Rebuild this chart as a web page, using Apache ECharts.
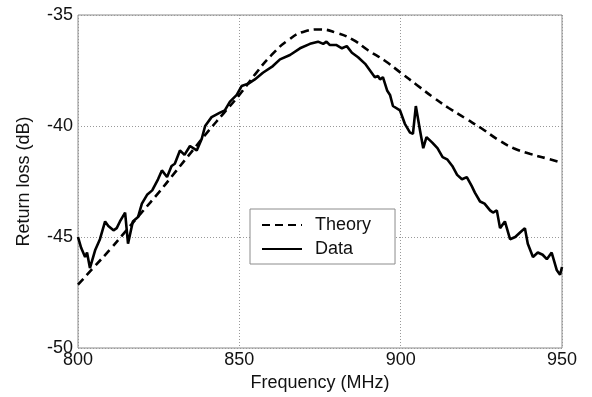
<!DOCTYPE html>
<html><head><meta charset="utf-8">
<script src="https://cdn.jsdelivr.net/npm/echarts@6/dist/echarts.min.js"></script>
<style>html,body{margin:0;padding:0;background:#fff}#c{width:592px;height:397px}</style>
</head><body><div id="c"></div>
<script>
var xTicks = [800, 850, 900, 950];
var yTicks = [-50, -45, -40, -35];

var theoryFreq = [800,805,810,815,820,825,830,835,840,845,850,855,860,865,870,875,880,885,890,895,900,905,910,915,920,925,930,935,940,945,950];
var theoryVal = [-47.15,-46.35,-45.55,-44.7,-43.85,-43.0,-42.1,-41.2,-40.3,-39.45,-38.6,-37.65,-36.8,-36.15,-35.75,-35.65,-35.8,-36.1,-36.6,-37.05,-37.6,-38.15,-38.7,-39.2,-39.65,-40.1,-40.6,-41.0,-41.25,-41.45,-41.65];

var dataFreq = [800,801,802.2,802.8,803.7,805.3,806.8,808.4,809.4,811,812,813,814.6,815.5,817,818.6,819.8,821.4,823,824.8,826,827.6,829,830,831.6,833,834.7,836.8,838.3,839.4,841.4,844,845.5,847.1,849.2,850.7,852.7,854.8,857.3,860.4,862.6,865.7,868.8,871.9,874.4,876,877,878,880,881.8,883.3,884.9,886.8,889,890.5,892,893,893.6,894.5,895.8,896.7,897.6,899.8,901.3,902.9,903.8,904.7,906,907,908,909.8,911.4,913,914.4,916,917.5,919,920.5,922,923,924.6,926,927.7,928.6,929.8,930.8,932.3,933.9,935.5,937,938.5,939.4,941,942.5,944,945.3,946.8,948.4,949.4,950];
var dataVal = [-45.0,-45.5,-45.9,-45.7,-46.4,-45.6,-45.1,-44.3,-44.5,-44.7,-44.6,-44.3,-43.9,-45.3,-44.3,-44.1,-43.5,-43.1,-42.9,-42.4,-42.0,-42.3,-41.8,-41.7,-41.1,-41.3,-40.9,-41.1,-40.6,-40.0,-39.6,-39.4,-39.3,-38.9,-38.6,-38.2,-38.1,-37.9,-37.6,-37.3,-37.0,-36.8,-36.5,-36.3,-36.2,-36.3,-36.2,-36.35,-36.35,-36.5,-36.4,-36.7,-36.9,-37.2,-37.5,-37.8,-37.75,-37.9,-37.8,-38.4,-38.6,-39.1,-39.3,-39.9,-40.3,-40.35,-39.1,-40.2,-41.0,-40.5,-40.75,-41.0,-41.4,-41.5,-41.8,-42.2,-42.4,-42.3,-42.7,-43.0,-43.4,-43.5,-43.8,-43.9,-43.8,-44.6,-44.3,-45.1,-45.0,-44.8,-44.6,-45.3,-45.9,-45.7,-45.8,-46.0,-45.7,-46.5,-46.7,-46.35];

function zip(a, b) { return a.map(function (v, i) { return [v, b[i]]; }); }

var chart = echarts.init(document.getElementById('c'), null, {renderer: 'canvas'});
var font = 'Liberation Sans, Arial, sans-serif';
chart.setOption({
  animation: false,
  backgroundColor: '#fff',
  grid: {left: 78, right: 30, top: 15, bottom: 49, show: true, borderColor: '#8c8c8c', borderWidth: 1, containLabel: false},
  xAxis: {
    type: 'value', min: xTicks[0], max: xTicks[xTicks.length - 1], interval: 50,
    name: 'Frequency (MHz)', nameLocation: 'middle', nameGap: 25,
    nameTextStyle: {fontFamily: font, fontSize: 18, color: '#111'},
    axisLine: {show: false}, axisTick: {show: false},
    axisLabel: {fontFamily: font, fontSize: 18, color: '#111', margin: 3},
    splitLine: {show: true, lineStyle: {color: '#999', type: [1, 2], width: 1}}
  },
  yAxis: {
    type: 'value', min: yTicks[0], max: yTicks[yTicks.length - 1], interval: 5,
    name: 'Return loss (dB)', nameLocation: 'middle', nameGap: 45,
    nameTextStyle: {fontFamily: font, fontSize: 18, color: '#111'},
    axisLine: {show: false}, axisTick: {show: false},
    axisLabel: {fontFamily: font, fontSize: 18, color: '#111', margin: 5},
    splitLine: {show: true, lineStyle: {color: '#999', type: [1, 2], width: 1}}
  },
  legend: {
    left: 250, top: 209, orient: 'vertical', itemGap: 6,
    padding: [7, 24, 6, 11], itemWidth: 40, itemHeight: 14,
    borderColor: '#8c8c8c', borderWidth: 1, backgroundColor: '#fff',
    itemStyle: {opacity: 0},
    textStyle: {fontFamily: font, fontSize: 18, color: '#111', padding: [0, 0, 0, 8]},
    data: ['Theory', 'Data']
  },
  series: [
    {name: 'Theory', type: 'line', symbol: 'none', smooth: true, data: zip(theoryFreq, theoryVal),
     lineStyle: {color: '#000', width: 2.6, type: [8, 5]}, itemStyle: {color: '#000', opacity: 0}},
    {name: 'Data', type: 'line', symbol: 'none', data: zip(dataFreq, dataVal),
     lineStyle: {color: '#000', width: 2.6}, itemStyle: {color: '#000', opacity: 0}}
  ]
});
</script></body></html>
